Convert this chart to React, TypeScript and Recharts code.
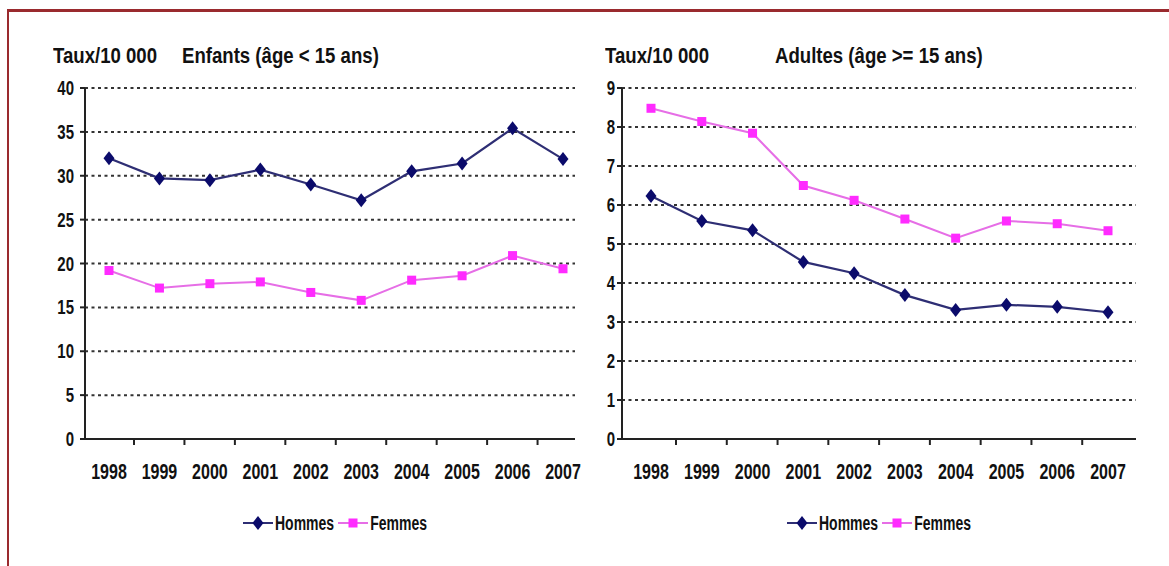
import React from "react";
import { LineChart, Line, XAxis, YAxis, CartesianGrid } from "recharts";

// values
const years = ["1998", "1999", "2000", "2001", "2002", "2003", "2004", "2005", "2006", "2007"];
const enfantsHommes = [32.0, 29.7, 29.5, 30.7, 29.0, 27.2, 30.5, 31.4, 35.4, 31.9];
const enfantsFemmes = [19.2, 17.2, 17.7, 17.9, 16.7, 15.8, 18.1, 18.6, 20.9, 19.4];
const adultesHommes = [6.23, 5.59, 5.35, 4.54, 4.25, 3.69, 3.31, 3.44, 3.39, 3.25];
const adultesFemmes = [8.48, 8.14, 7.84, 6.5, 6.12, 5.64, 5.15, 5.59, 5.52, 5.34];
const enfantsTicks = [0, 5, 10, 15, 20, 25, 30, 35, 40];
const adultesTicks = [0, 1, 2, 3, 4, 5, 6, 7, 8, 9];
const seriesNames = ["Hommes", "Femmes"];

const FONT = "'Liberation Sans', Arial, sans-serif";
const NAVY = "#0b0b6b";
const NAVY_LINE = "#2e2e74";
const PINK = "#ff2bff";
const PINK_LINE = "#e66ee6";
const GRID = "#333";
const AXIS = "#222";

const enfantsData = years.map((y, i) => ({ year: y, Hommes: enfantsHommes[i], Femmes: enfantsFemmes[i] }));
const adultesData = years.map((y, i) => ({ year: y, Hommes: adultesHommes[i], Femmes: adultesFemmes[i] }));

const Diamond = (props: any) => {
  const { cx, cy } = props;
  if (cx == null || cy == null) return null;
  return <path d={`M${cx},${cy - 7} L${cx + 5.5},${cy} L${cx},${cy + 7} L${cx - 5.5},${cy} Z`} fill={NAVY} />;
};

const Square = (props: any) => {
  const { cx, cy } = props;
  if (cx == null || cy == null) return null;
  return <rect x={cx - 4.5} y={cy - 4.5} width={9} height={9} fill={PINK} />;
};

const YTick = (props: any) => {
  const { x, y, payload } = props;
  return (
    <g transform={`translate(${x},${y}) scale(1,1.3)`}>
      <text x={0} y={0} dy="0.36em" textAnchor="end" fontFamily={FONT} fontWeight="bold" fontSize={15} fill="#111">
        {payload.value}
      </text>
    </g>
  );
};

const makeXTick = (half: number) => (props: any) => {
  const { x, y, payload, index } = props;
  return (
    <g transform={`translate(${x},${y})`}>
      {index < years.length - 1 && <line x1={half} x2={half} y1={0} y2={6} stroke={AXIS} strokeWidth={2} />}
      <g transform="translate(0,40) scale(1,1.39)">
        <text x={0} y={0} textAnchor="middle" fontFamily={FONT} fontWeight="bold" fontSize={16} fill="#111">
          {payload.value}
        </text>
      </g>
    </g>
  );
};

const Title = ({ left, text }: { left: number; text: string }) => (
  <div
    style={{
      position: "absolute",
      left,
      top: 48,
      fontFamily: FONT,
      fontWeight: "bold",
      fontSize: 18.6,
      lineHeight: "18px",
      color: "#111",
      whiteSpace: "nowrap",
      transform: "scaleY(1.2)",
      transformOrigin: "0 15px",
    }}
  >
    {text}
  </div>
);

const LegendBox = ({ left }: { left: number }) => (
  <div style={{ position: "absolute", left, top: 514, display: "flex", alignItems: "center", height: 18 }}>
    {seriesNames.map((name) => (
      <div key={name} style={{ display: "flex", alignItems: "center", marginRight: 4 }}>
        <svg width={30} height={16}>
          <line x1={0} x2={30} y1={8} y2={8} stroke={name === "Hommes" ? NAVY_LINE : PINK_LINE} strokeWidth={2} />
          {name === "Hommes" ? <Diamond cx={15} cy={8} /> : <Square cx={15} cy={8} />}
        </svg>
        <span
          style={{
            display: "inline-block",
            marginLeft: 2,
            fontFamily: FONT,
            fontWeight: "bold",
            fontSize: 14,
            color: "#111",
            transform: "scaleY(1.4)",
          }}
        >
          {name}
        </span>
      </div>
    ))}
  </div>
);

const Panel = ({ data, ticks, max, margin, width, tickGap, half, tickMargin }: any) => (
  <LineChart width={width} height={500} data={data} margin={margin}>
    <CartesianGrid vertical={false} stroke={GRID} strokeWidth={2} strokeDasharray="3 3.5" />
    <XAxis
      dataKey="year"
      padding={tickGap}
      tickLine={false}
      tickSize={0}
      tickMargin={0}
      height={50}
      stroke={AXIS}
      strokeWidth={2}
      interval={0}
      tick={makeXTick(half)}
    />
    <YAxis
      domain={[0, max]}
      ticks={ticks}
      width={40}
      stroke={AXIS}
      strokeWidth={2}
      tickSize={5}
      tickMargin={tickMargin}
      interval={0}
      tick={<YTick />}
    />
    <Line dataKey="Hommes" stroke={NAVY_LINE} strokeWidth={2.2} dot={<Diamond />} isAnimationActive={false} />
    <Line dataKey="Femmes" stroke={PINK_LINE} strokeWidth={2} dot={<Square />} isAnimationActive={false} />
  </LineChart>
);

export default function App() {
  return (
    <div style={{ position: "absolute", left: 0, top: 0, width: 1169, height: 566, background: "#fff", overflow: "hidden" }}>
      <div
        style={{
          position: "absolute",
          left: 7,
          top: 9,
          width: 1170,
          height: 570,
          borderTop: "3px solid #9a2a2e",
          borderLeft: "2px solid #9a2a2e",
        }}
      />
      <Title left={53} text="Taux/10 000" />
      <Title left={182} text="Enfants (âge < 15 ans)" />
      <Title left={605} text="Taux/10 000" />
      <Title left={775} text="Adultes (âge >= 15 ans)" />

      <div style={{ position: "absolute", left: 0, top: 0 }}>
        <Panel
          data={enfantsData}
          ticks={enfantsTicks}
          max={40}
          width={600}
          margin={{ top: 88, right: 25, bottom: 11, left: 45 }}
          tickMargin={6}
          tickGap={{ left: 24, right: 12 }}
          half={25}
        />
      </div>
      <div style={{ position: "absolute", left: 580, top: 0 }}>
        <Panel
          data={adultesData}
          ticks={adultesTicks}
          max={9}
          width={580}
          margin={{ top: 88, right: 24, bottom: 11, left: 2 }}
          tickMargin={2}
          tickGap={{ left: 29, right: 28 }}
          half={25}
        />
      </div>

      <LegendBox left={243} />
      <LegendBox left={787} />
    </div>
  );
}
